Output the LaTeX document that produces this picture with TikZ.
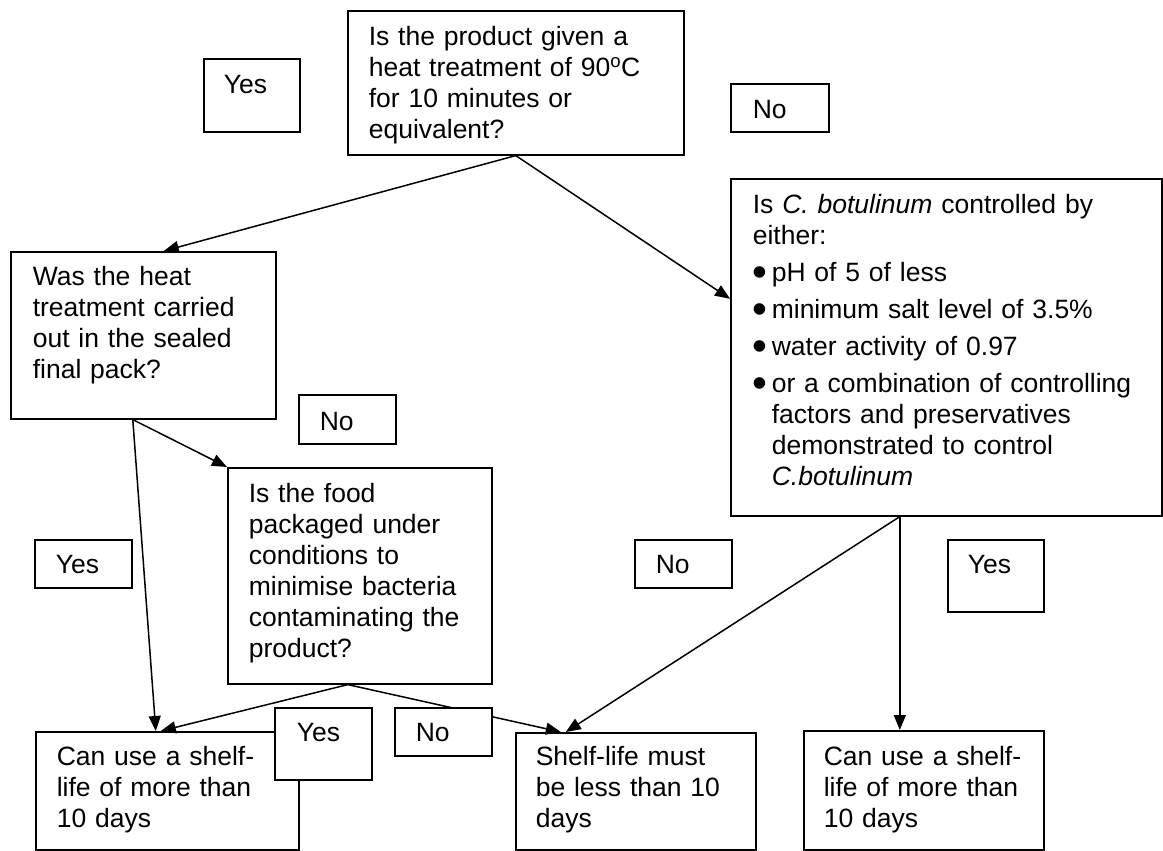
\documentclass[tikz,border=0pt]{standalone}
\usepackage{fontspec}
\setmainfont{Liberation Sans}
\usetikzlibrary{arrows.meta}
% large round list marker, as in the controls list
\newcommand{\listdot}{\makebox[19pt][l]{\raisebox{-5pt}{\scalebox{1.6}{\textbullet}}}}
\begin{document}
\begin{tikzpicture}[x=1pt,y=-1pt,
  every node/.style={font=\fontsize{26.5}{31}\selectfont},
  box/.style={draw, line width=1.6pt, fill=white, anchor=north west,
              align=left, inner ysep=0pt},
  flow/.style={line width=1.5pt, -{Triangle[length=15pt,width=12pt]}},
]
\useasboundingbox (0,0) rectangle (1163,851);

% question and outcome boxes
\node[box, inner xsep=21pt, text width=294pt, text height=35pt, text depth=109pt]
  (q1) at (347,10) {Is the product given a\\heat treatment of 90\textsuperscript{o}C\\for 10 minutes or\\equivalent?};
\node[box, inner xsep=22pt, text width=221pt, text height=34pt, text depth=133pt]
  (q2) at (10,251) {Was the heat\\treatment carried\\out in the sealed\\final pack?};
\node[box, inner xsep=22pt, text width=387pt, text height=35pt, text depth=302pt]
  (q3) at (730,178) {Is \textit{C. botulinum} controlled by\\either:\\[6pt]
  \listdot pH of 5 of less\\[6pt]
  \listdot minimum salt level of 3.5\%\\[6pt]
  \listdot water activity of 0.97\\[6pt]
  \listdot or a combination of controlling\\
  \hspace*{19pt}factors and preservatives\\
  \hspace*{19pt}demonstrated to control\\
  \hspace*{19pt}\textit{C.botulinum}};
\node[box, inner xsep=21pt, text width=222pt, text height=35pt, text depth=181pt]
  (q4) at (227,467) {Is the food\\packaged under\\conditions to\\minimise bacteria\\contaminating the\\product?};
\node[box, inner xsep=21pt, text width=221pt, text height=34pt, text depth=84pt]
  (bl) at (35,731) {Can use a shelf-\\life of more than\\10 days};
\node[box, inner xsep=20pt, text width=200pt, text height=33pt, text depth=84pt]
  (bm) at (515,732) {Shelf-life must\\be less than 10\\days};
\node[box, inner xsep=20pt, text width=200pt, text height=35pt, text depth=84pt]
  (br) at (803,730) {Can use a shelf-\\life of more than\\10 days};

% connectors
\draw[flow] (q1.south) -- ([xshift=20.5pt]q2.north);
\draw[flow] (q1.south) -- ([yshift=48.5pt]q3.west);
\draw[flow] ([xshift=-10.5pt]q2.south) -- (q4.north west);
\draw[flow] ([xshift=-10.5pt]q2.south) -- ([xshift=-11.5pt]bl.north);
\draw[flow] ([xshift=-12pt]q4.south) -- ([xshift=-6.5pt]bl.north);
\draw[flow] ([xshift=-12pt]q4.south) -- ([xshift=-75pt]bm.north);
\draw[flow] ([xshift=-46.5pt]q3.south) -- ([xshift=-70pt]bm.north);
\draw[flow] ([xshift=-46.5pt]q3.south) -- ([xshift=-24pt]br.north);

% answer labels
\node[box, inner xsep=20pt, text width=56pt, text height=35pt, text depth=38pt] (yes1) at (203,58) {Yes};
\node[box, inner xsep=22pt, text width=54pt, text height=35pt, text depth=13pt] (no1) at (730,83) {No};
\node[box, inner xsep=21pt, text width=55pt, text height=36pt, text depth=13pt] (no2) at (298,394) {No};
\node[box, inner xsep=21pt, text width=55pt, text height=34pt, text depth=14pt] (yes2) at (34,539) {Yes};
\node[box, inner xsep=21pt, text width=55pt, text height=34pt, text depth=14pt] (no3) at (634,539) {No};
\node[box, inner xsep=20pt, text width=56pt, text height=34pt, text depth=38pt] (yes3) at (947,539) {Yes};
\node[box, inner xsep=22pt, text width=53pt, text height=34pt, text depth=38pt] (yes4) at (274,707) {Yes};
\node[box, inner xsep=21pt, text width=55pt, text height=34pt, text depth=14pt] (no4) at (394,707) {No};
\end{tikzpicture}
\end{document}
